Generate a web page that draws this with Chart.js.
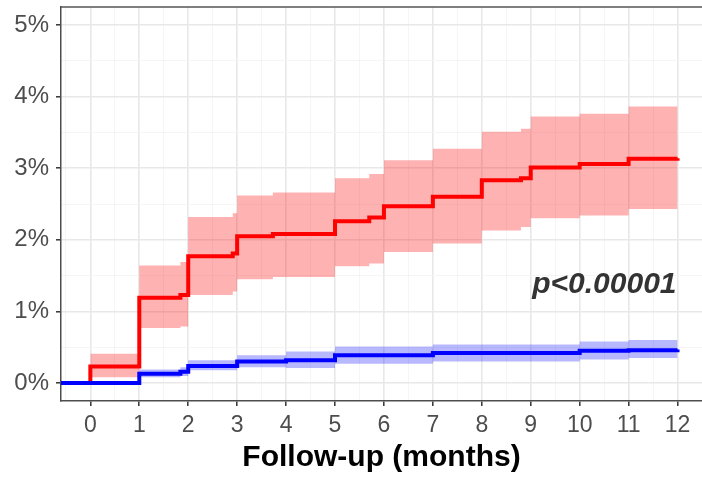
<!DOCTYPE html>
<html>
<head>
<meta charset="utf-8">
<script src="https://cdn.jsdelivr.net/npm/chart.js@4/dist/chart.umd.min.js"></script>
<style>
  html, body { margin: 0; padding: 0; background: #fff; }
</style>
</head>
<body>
<canvas id="myChart" width="702" height="478"></canvas>
<script>
// cumulative incidence (%), step starts at each time
const redTimes = [0, 0, 1, 1.84, 2, 2.91, 3, 3.73, 5, 5.7, 6, 7, 8, 8.8, 9, 10, 11, 12];
const redEst   = [0, 0.23, 1.19, 1.23, 1.77, 1.81, 2.05, 2.08, 2.26, 2.31, 2.47, 2.60, 2.83, 2.86, 3.01, 3.06, 3.13, 3.14];
const redLow   = [0, 0.08, 0.77, 0.79, 1.23, 1.28, 1.45, 1.48, 1.63, 1.67, 1.83, 1.95, 2.13, 2.18, 2.30, 2.34, 2.43, 2.43];
const redHigh  = [0, 0.41, 1.64, 1.69, 2.32, 2.37, 2.62, 2.66, 2.86, 2.92, 3.11, 3.27, 3.51, 3.55, 3.72, 3.76, 3.86, 3.86];

const blueTimes = [-0.6, 1, 1.84, 2, 3, 4, 5, 7, 10, 11, 12];
const blueEst   = [0, 0.13, 0.16, 0.24, 0.30, 0.32, 0.39, 0.42, 0.45, 0.46, 0.47];
const blueLow   = [0, 0.08, 0.10, 0.18, 0.22, 0.21, 0.27, 0.30, 0.33, 0.35, 0.35];
const blueHigh  = [0.02, 0.19, 0.22, 0.32, 0.39, 0.44, 0.51, 0.54, 0.58, 0.60, 0.60];

const xTicks = [-0.5, 0, 0.5, 1, 1.5, 2, 2.5, 3, 3.5, 4, 4.5, 5, 5.5, 6, 6.5, 7, 7.5, 8, 8.5, 9, 9.5, 10, 10.5, 11, 11.5, 12, 12.5];
const yTicks = [0, 0.5, 1, 1.5, 2, 2.5, 3, 3.5, 4, 4.5, 5];

const pText = 'p<0.00001';
const pPos = [9.03, 1.26];

function pts(xs, ys) {
  return xs.map((x, i) => ({x: x, y: ys[i]}));
}

const isMajor = v => Number.isInteger(v);
const none = 'rgba(0,0,0,0)';

function gridOpts() {
  return {
    color: c => isMajor(c.tick.value) ? '#e8e8e8' : '#f3f3f3',
    lineWidth: c => isMajor(c.tick.value) ? 1.6 : 0.8,
    tickColor: c => isMajor(c.tick.value) ? '#333333' : none,
    tickWidth: 1.5,
    tickLength: 5
  };
}

function noPad(s) {
  s.paddingTop = 0;
  s.paddingBottom = 0;
  s.paddingLeft = 0;
  s.paddingRight = 0;
}

const extras = {
  id: 'extras',
  afterDatasetsDraw(chart) {
    const {ctx, chartArea, scales} = chart;
    ctx.save();
    ctx.strokeStyle = '#555555';
    ctx.lineWidth = 1.5;
    ctx.beginPath();
    ctx.moveTo(chartArea.left, chartArea.top);
    ctx.lineTo(chartArea.right, chartArea.top);
    ctx.stroke();
    ctx.font = 'italic bold 30px "Liberation Sans", Arial, sans-serif';
    ctx.fillStyle = '#333333';
    ctx.textAlign = 'left';
    ctx.textBaseline = 'alphabetic';
    ctx.fillText(pText, scales.x.getPixelForValue(pPos[0]), scales.y.getPixelForValue(pPos[1]));
    ctx.restore();
  }
};

new Chart("myChart", {
  type: "line",
  data: {
    datasets: [
      { data: pts(redTimes, redHigh), stepped: true, borderColor: none, borderWidth: 0, pointRadius: 0,
        backgroundColor: 'rgba(255,0,0,0.3)', fill: '+1', order: 3 },
      { data: pts(redTimes, redLow), stepped: true, borderColor: none, borderWidth: 0, pointRadius: 0,
        fill: false, order: 3 },
      { data: pts(blueTimes, blueHigh), stepped: true, borderColor: none, borderWidth: 0, pointRadius: 0,
        backgroundColor: 'rgba(0,0,255,0.28)', fill: '+1', order: 2 },
      { data: pts(blueTimes, blueLow), stepped: true, borderColor: none, borderWidth: 0, pointRadius: 0,
        fill: false, order: 2 },
      { data: pts(redTimes, redEst), stepped: true, borderColor: '#ff0000', borderWidth: 4, pointRadius: 0,
        fill: false, order: 1 },
      { data: pts(blueTimes, blueEst), stepped: true, borderColor: '#0000ff', borderWidth: 4, pointRadius: 0,
        fill: false, order: 0 }
    ]
  },
  options: {
    responsive: false,
    animation: false,
    layout: { padding: { top: 7, right: 0, bottom: 0, left: 0 } },
    plugins: { legend: { display: false }, tooltip: { enabled: false } },
    scales: {
      x: {
        type: 'linear',
        min: -0.6,
        max: 12.5,
        afterBuildTicks: s => { s.ticks = xTicks.map(v => ({value: v})); },
        afterFit: s => { s.height = 77; noPad(s); },
        grid: gridOpts(),
        border: { color: '#4d4d4d', width: 1.5 },
        ticks: {
          autoSkip: false, maxRotation: 0, padding: 6, color: '#4d4d4d',
          font: { family: 'Liberation Sans', size: 23 },
          callback: v => isMajor(v) ? String(v) : ''
        },
        title: {
          display: true, text: 'Follow-up (months)', color: '#000000',
          font: { family: 'Liberation Sans', size: 30, weight: 'bold' },
          padding: { top: 0, bottom: 2 }
        }
      },
      y: {
        min: -0.25,
        max: 5.25,
        afterBuildTicks: s => { s.ticks = yTicks.map(v => ({value: v})); },
        afterFit: s => { s.width = 61; noPad(s); },
        grid: gridOpts(),
        border: { color: '#4d4d4d', width: 1.5 },
        ticks: {
          autoSkip: false, padding: 7, color: '#4d4d4d',
          font: { family: 'Liberation Sans', size: 24 },
          callback: v => isMajor(v) ? v + '%' : ''
        }
      }
    }
  },
  plugins: [extras]
});
</script>
</body>
</html>
